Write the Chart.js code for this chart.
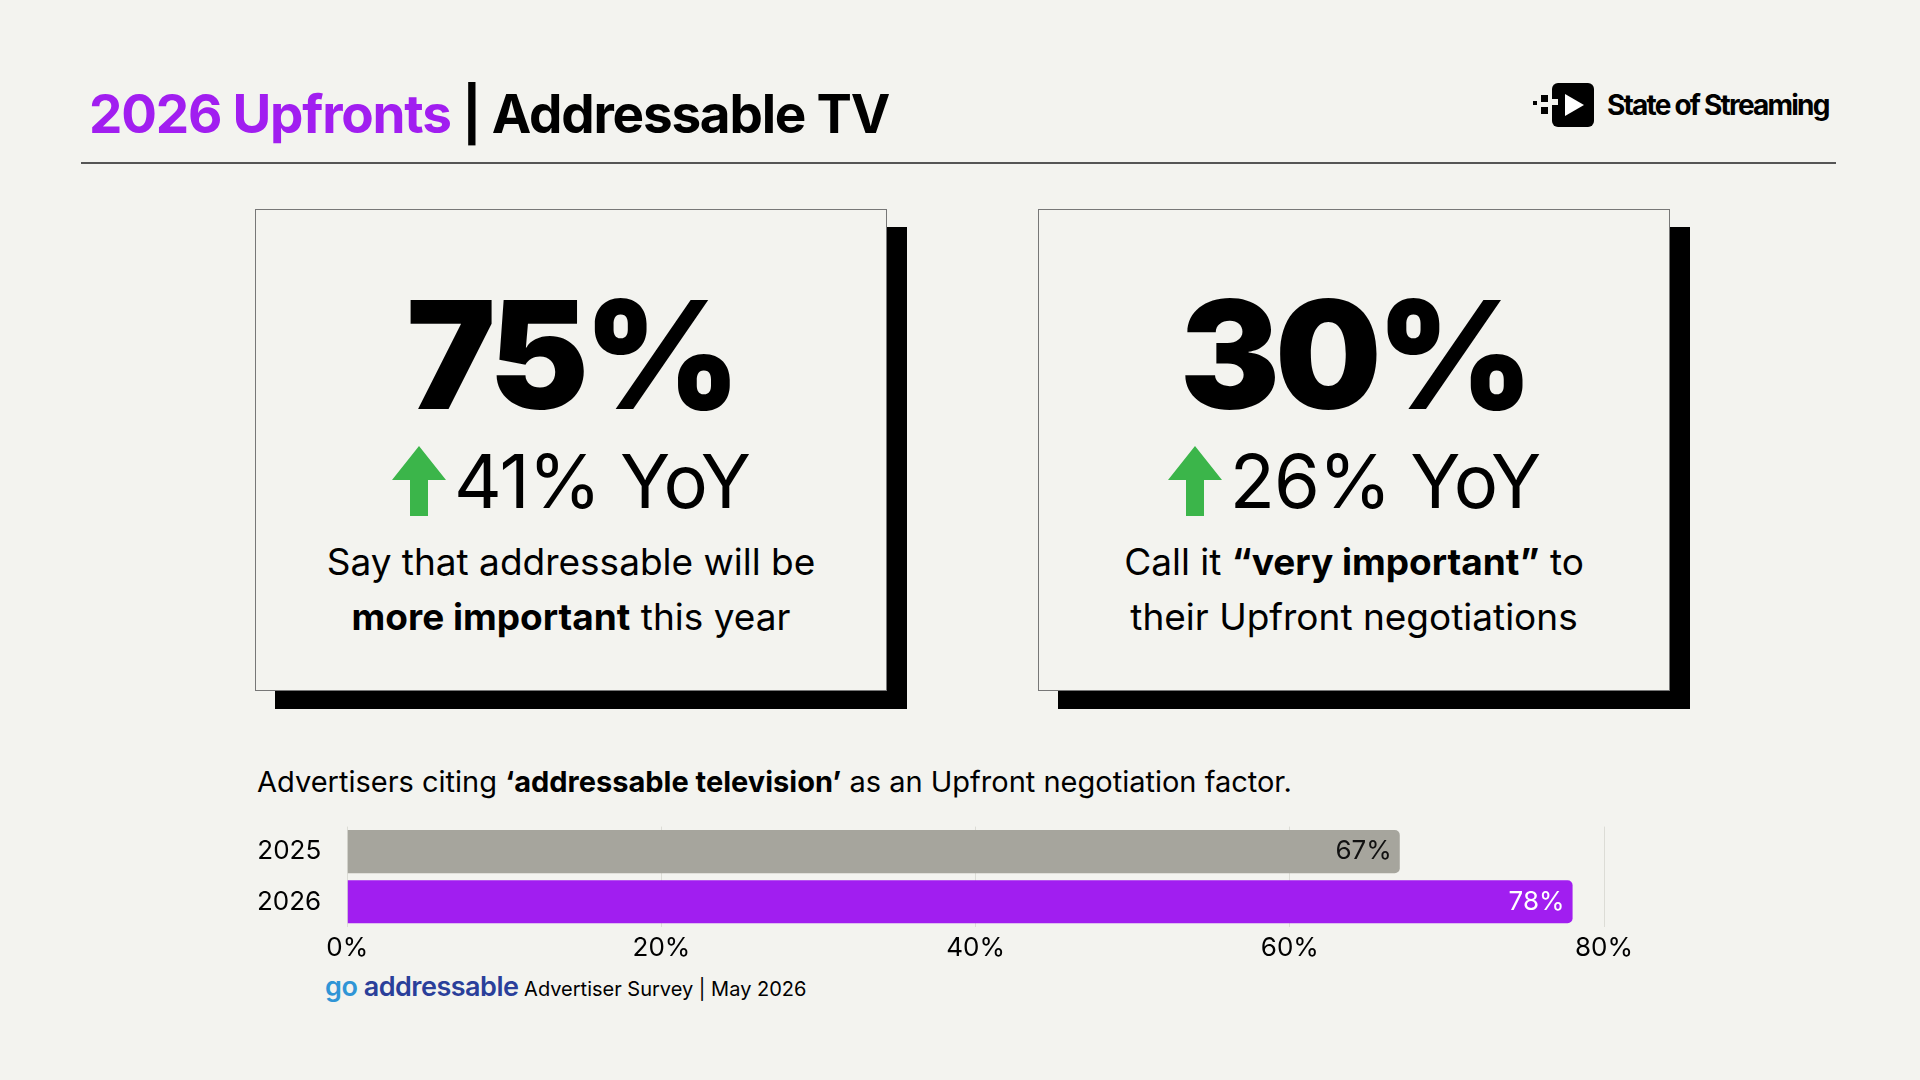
<!DOCTYPE html>
<html><head><meta charset="utf-8">
<script src="https://cdn.jsdelivr.net/npm/chart.js@4"></script>
<style>
body{margin:0;width:1920px;height:1080px;background:#f3f3ef;font-family:Inter,"Noto Sans",sans-serif;position:relative;overflow:hidden;color:#000}
.abs{position:absolute}
.title{left:89px;top:82px;font-size:53px;font-weight:700;letter-spacing:-1.2px;white-space:nowrap}
.rule{left:81px;top:162px;width:1755px;height:1.5px;background:#555}
.card{width:630px;height:480px;background:#f3f3ef;border:1.5px solid #777;box-shadow:20px 18px 0 #000;text-align:center}
.big{font-size:150px;font-weight:900;letter-spacing:-5px;line-height:1;margin-top:70px}
.yoy{font-size:74px;font-weight:400;line-height:1;margin-top:14px;display:flex;justify-content:center;align-items:center;gap:8px;letter-spacing:-1px}
.desc{font-size:37px;line-height:55px;margin-top:16px}
.sub{left:257px;top:764px;font-size:29px}
.foot{left:325px;top:970px;font-size:20px}
</style></head><body>
<div class="abs title"><span style="color:#a11ef0">2026 Upfronts</span> | Addressable TV</div>
<div class="abs" style="left:1533px;top:83px;display:flex;align-items:center;gap:12px">
 <svg width="62" height="44" viewBox="0 0 62 44"><rect x="0" y="18" width="4" height="4"/><rect x="8" y="12" width="7" height="7"/><rect x="8" y="24" width="7" height="7"/><rect x="19" y="0" width="42" height="44" rx="6"/><polygon points="32,11 51,22 32,33" fill="#fff"/><rect x="19" y="16" width="6" height="6" fill="#f3f3ef"/></svg>
 <span style="font-size:28px;font-weight:700;letter-spacing:-1.8px">State of Streaming</span></div>
<div class="abs rule"></div>
<div class="abs card" style="left:255px;top:209px">
 <div class="big">75%</div>
 <div class="yoy"><svg width="54" height="70" viewBox="0 0 54 70"><polygon points="27,0 54,34 36,34 36,70 18,70 18,34 0,34" fill="#3bb54a"/></svg>41% YoY</div>
 <div class="desc">Say that addressable will be<br><b>more important</b> this year</div></div>
<div class="abs card" style="left:1038px;top:209px">
 <div class="big">30%</div>
 <div class="yoy"><svg width="54" height="70" viewBox="0 0 54 70"><polygon points="27,0 54,34 36,34 36,70 18,70 18,34 0,34" fill="#3bb54a"/></svg>26% YoY</div>
 <div class="desc">Call it <b>“very important”</b> to<br>their Upfront negotiations</div></div>
<div class="abs sub">Advertisers citing <b>‘addressable television’</b> as an Upfront negotiation factor.</div>
<div class="abs" style="left:234px;top:793px;width:1410px;height:177px"><canvas id="c" width="1410" height="177" style="width:1410px;height:177px"></canvas></div>
<div class="abs foot"><span style="font-size:27px;font-weight:600;color:#2a3f9a;letter-spacing:-0.5px"><span style="color:#2f95d6">go</span> addressable</span> Advertiser Survey | May 2026</div>
<script>
const categories=["2025","2026"];
const values=[67,78];
const labels=["67%","78%"];
const colors=["#a6a59d","#a11ef0"];
const labelColors=["#111","#fff"];
const ticks=["0%","20%","40%","60%","80%"];
new Chart(document.getElementById('c'),{type:'bar',
data:{labels:categories,datasets:[{data:values,backgroundColor:colors,borderRadius:5,borderSkipped:'start',barPercentage:0.86,categoryPercentage:1}]},
options:{indexAxis:'y',responsive:false,animation:false,
layout:{padding:{left:5,right:40,top:4}},
plugins:{legend:{display:false},tooltip:{enabled:false}},
scales:{x:{min:0,max:80,ticks:{stepSize:20,callback:(v,i)=>ticks[i],color:'#000',font:{size:26,family:'Inter'},padding:6},grid:{color:'#dcdcd6',drawTicks:false},border:{display:false}},
y:{ticks:{autoSkip:false,color:'#000',font:{size:26,family:'Inter'},padding:18},grid:{display:false},border:{display:false}}}},
plugins:[{id:'lbl',afterDatasetsDraw(ch){const ctx=ch.ctx;ch.getDatasetMeta(0).data.forEach((b,i)=>{ctx.save();ctx.font='26px Inter';ctx.fillStyle=labelColors[i];ctx.textAlign='right';ctx.textBaseline='middle';ctx.fillText(labels[i],b.x-8,b.y);ctx.restore();});}}]
});
</script></body></html>
